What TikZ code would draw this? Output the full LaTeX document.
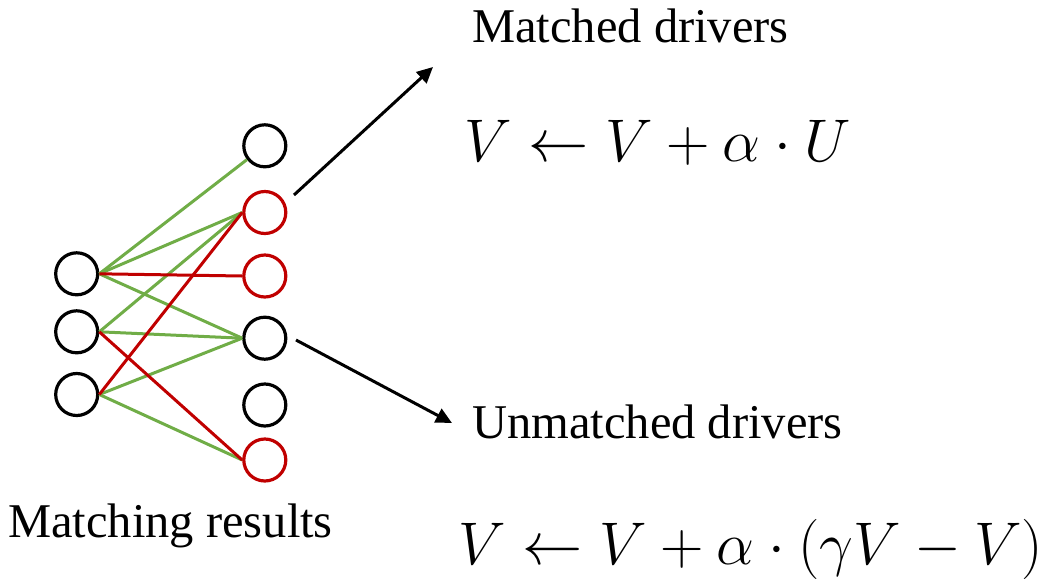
\documentclass[tikz,border=0pt]{standalone}
\usepackage{graphicx}
\usepackage{fontspec}
\setmainfont{Liberation Serif}
\usetikzlibrary{arrows.meta}
\definecolor{egreen}{HTML}{70AD47}
\definecolor{ered}{HTML}{C00000}
\newcommand{\bigeq}[1]{\scalebox{2.42}{\fontsize{24.88}{30}\selectfont$#1$}}
\tikzset{
  nd/.style={circle,draw=black,line width=3.2pt,minimum size=42pt,inner sep=0pt},
  rednd/.style={nd,draw=ered},
  ge/.style={draw=egreen,line width=3pt},
  re/.style={draw=ered,line width=3pt},
  bigarrow/.style={draw=black,line width=3pt,-{Triangle[length=16pt,width=15pt]}},
  lbl/.style={anchor=base west,inner sep=0pt,font=\fontsize{48.5}{58}\selectfont},
  eq/.style={anchor=base west,inner sep=0pt}
}
\begin{document}
\begin{tikzpicture}[x=1pt,y=-1pt]
\useasboundingbox (0,0) rectangle (1057,579);
% left nodes
\node[nd] (L1) at (76.7,273.8) {};
\node[nd] (L2) at (76.7,331.8) {};
\node[nd] (L3) at (76.7,394.5) {};
% right nodes
\node[nd] (R1) at (264.8,145.8) {};
\node[rednd] (R2) at (264.8,212.5) {};
\node[rednd] (R3) at (264.8,276) {};
\node[nd] (R4) at (264.8,338.2) {};
\node[nd] (R5) at (264.8,405) {};
\node[rednd] (R6) at (264.8,460) {};
% edges
\draw[ge] (L1.east) -- (R1);
\draw[ge] (L1.east) -- (R2.west);
\draw[ge] (L1.east) -- (R4.west);
\draw[ge] (L2.east) -- (R2.west);
\draw[ge] (L2.east) -- (R4.west);
\draw[ge] (L3.east) -- (R4.west);
\draw[ge] (L3.east) -- (R6.west);
\draw[re] (L1.east) -- (R3.west);
\draw[re] (L2.east) -- (R6.west);
\draw[re] (L3.east) -- (R2.west);
% arrows
\coordinate (a1s) at (294,195);
\coordinate (a1e) at (433,67);
\coordinate (a2s) at (296,340);
\coordinate (a2e) at (452,423);
\draw[bigarrow] (a1s) -- (a1e);
\draw[bigarrow] (a2s) -- (a2e);
% texts
\node[lbl] (t1) at (472,42) {Matched drivers};
\node[lbl] (t2) at (472,438) {Unmatched drivers};
\node[lbl] (t3) at (8,537) {Matching results};
\node[eq] (f1) at (464,161) {\bigeq{V \leftarrow V + \alpha \cdot U}};
\node[eq] (f2) at (458,564) {\bigeq{V \leftarrow V + \alpha \cdot (\gamma V - V)}};
\end{tikzpicture}
\end{document}
